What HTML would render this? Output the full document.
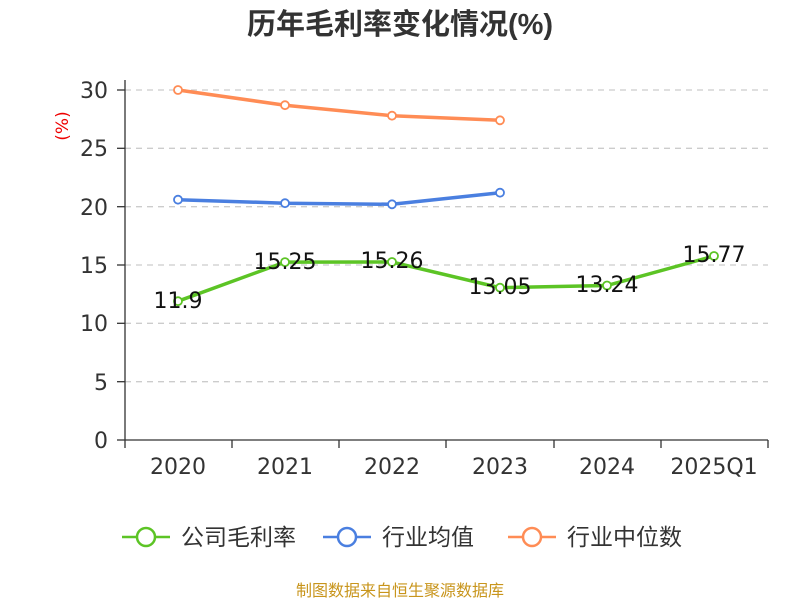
<!DOCTYPE html>
<html><head><meta charset="utf-8"><style>
body{margin:0;background:#fff;}
svg{display:block;font-family:"DejaVu Sans","Noto Sans CJK SC",sans-serif;}
</style></head><body>
<svg width="800" height="600" viewBox="0 0 800 600">
<text x="400" y="34" text-anchor="middle" font-size="29" font-weight="bold" fill="#333" font-family="Liberation Sans, Noto Sans CJK SC, sans-serif">历年毛利率变化情况(%)</text>
<text transform="translate(68,126) rotate(-90)" text-anchor="middle" font-size="17" fill="#e00">(%)</text>
<g stroke="#ccc" stroke-width="1.3" stroke-dasharray="6,5">
<line x1="125" x2="768" y1="90" y2="90"/><line x1="125" x2="768" y1="148.3" y2="148.3"/>
<line x1="125" x2="768" y1="206.7" y2="206.7"/><line x1="125" x2="768" y1="265" y2="265"/>
<line x1="125" x2="768" y1="323.3" y2="323.3"/><line x1="125" x2="768" y1="381.7" y2="381.7"/>
</g>
<g stroke="#333" stroke-width="1.3">
<line x1="125" x2="125" y1="80" y2="440"/><line x1="125" x2="768" y1="440" y2="440"/>
<line x1="117" x2="125" y1="90" y2="90"/><line x1="117" x2="125" y1="148.3" y2="148.3"/>
<line x1="117" x2="125" y1="206.7" y2="206.7"/><line x1="117" x2="125" y1="265" y2="265"/>
<line x1="117" x2="125" y1="323.3" y2="323.3"/><line x1="117" x2="125" y1="381.7" y2="381.7"/>
<line x1="117" x2="125" y1="440" y2="440"/>
<line x1="125" x2="125" y1="440" y2="448"/><line x1="232" x2="232" y1="440" y2="448"/>
<line x1="339" x2="339" y1="440" y2="448"/><line x1="446" x2="446" y1="440" y2="448"/>
<line x1="554" x2="554" y1="440" y2="448"/><line x1="661" x2="661" y1="440" y2="448"/>
<line x1="768" x2="768" y1="440" y2="448"/>
</g>
<g font-size="22" fill="#333" text-anchor="end">
<text x="108" y="98">30</text><text x="108" y="156">25</text><text x="108" y="215">20</text>
<text x="108" y="273">15</text><text x="108" y="331">10</text><text x="108" y="390">5</text><text x="108" y="448">0</text>
</g>
<g font-size="22" fill="#333" text-anchor="middle">
<text x="178" y="474">2020</text><text x="285" y="474">2021</text><text x="392" y="474">2022</text>
<text x="500" y="474">2023</text><text x="607" y="474">2024</text><text x="714" y="474">2025Q1</text>
</g>
<g fill="none" stroke-width="3.5">
<polyline stroke="#ff8c55" points="178,90 285,105.2 392,115.7 500,120.3"/>
<polyline stroke="#4a7fe0" points="178,199.7 285,203.2 392,204.3 500,192.7"/>
<polyline stroke="#5cc425" points="178,301.2 285,262.1 392,262 500,287.7 607,285.5 714,256"/>
</g>
<g fill="#fff" stroke-width="1.8">
<g stroke="#ff8c55"><circle cx="178" cy="90" r="4"/><circle cx="285" cy="105.2" r="4"/><circle cx="392" cy="115.7" r="4"/><circle cx="500" cy="120.3" r="4"/></g>
<g stroke="#4a7fe0"><circle cx="178" cy="199.7" r="4"/><circle cx="285" cy="203.2" r="4"/><circle cx="392" cy="204.3" r="4"/><circle cx="500" cy="192.7" r="4"/></g>
<g stroke="#5cc425"><circle cx="178" cy="301.2" r="4"/><circle cx="285" cy="262.1" r="4"/><circle cx="392" cy="262" r="4"/><circle cx="500" cy="287.7" r="4"/><circle cx="607" cy="285.5" r="4"/><circle cx="714" cy="256" r="4"/></g>
</g>
<g font-size="22" fill="#111" text-anchor="middle">
<text x="178" y="308">11.9</text><text x="285" y="269">15.25</text><text x="392" y="268">15.26</text>
<text x="500" y="294">13.05</text><text x="607" y="292">13.24</text><text x="714" y="262">15.77</text>
</g>
<g stroke-width="2.5" fill="#fff">
<line x1="122" x2="170" y1="537" y2="537" stroke="#5cc425"/><circle cx="146" cy="537" r="9" stroke="#5cc425"/>
<line x1="323" x2="371" y1="537" y2="537" stroke="#4a7fe0"/><circle cx="347" cy="537" r="9" stroke="#4a7fe0"/>
<line x1="508" x2="556" y1="537" y2="537" stroke="#ff8c55"/><circle cx="532" cy="537" r="9" stroke="#ff8c55"/>
</g>
<g font-size="23" fill="#333">
<text x="181" y="545">公司毛利率</text><text x="382" y="545">行业均值</text><text x="567" y="545">行业中位数</text>
</g>
<text x="400" y="596" text-anchor="middle" font-size="16" fill="#c8951c">制图数据来自恒生聚源数据库</text>
</svg>
</body></html>
